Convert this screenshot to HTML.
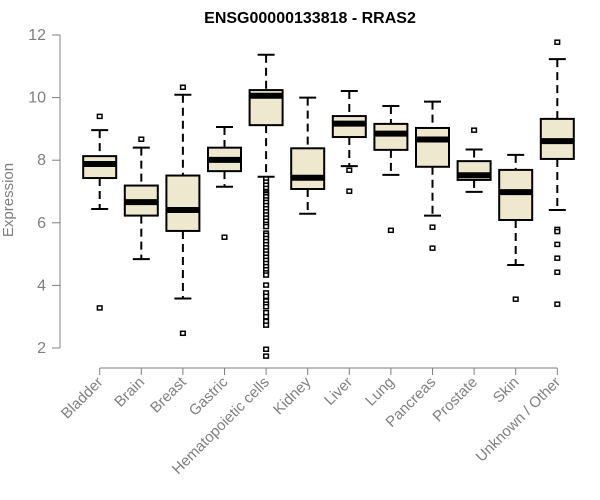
<!DOCTYPE html>
<html><head><meta charset="utf-8"><style>
body{margin:0;background:#fff}
svg{display:block;font-family:"Liberation Sans",sans-serif}
</style></head><body>
<svg id="chart" width="600" height="500">
<text x="310" y="23" text-anchor="middle" font-weight="bold" font-size="16">ENSG00000133818 - RRAS2</text>
<text transform="translate(13,200) rotate(-90)" text-anchor="middle" font-size="15" fill="#808080">Expression</text>
<g id="g"></g>
</svg>
<script>
const categories=["Bladder","Brain","Breast","Gastric","Hematopoietic cells","Kidney","Liver","Lung","Pancreas","Prostate","Skin","Unknown / Other"];
const whiskerLow=[6.44,4.84,3.58,7.15,7.47,6.29,7.81,7.53,6.23,6.99,4.65,6.41];
const q1=[7.43,6.23,5.74,7.65,9.12,7.08,8.74,8.33,7.79,7.37,6.09,8.04];
const median=[7.88,6.66,6.41,8.01,10.06,7.44,9.17,8.85,8.66,7.52,6.98,8.61];
const q3=[8.13,7.19,7.51,8.40,10.24,8.38,9.41,9.16,9.03,7.97,7.69,9.32];
const whiskerHigh=[8.96,8.40,10.09,9.06,11.37,10.0,10.21,9.73,9.87,8.34,8.17,11.23];
const outliers=[[9.40,3.28],[8.67],[10.33,2.47],[5.54],
[7.4,7.3,7.2,7.1,7.0,6.95,6.9,6.83,6.73,6.65,6.55,6.45,6.35,6.25,6.15,6.05,5.95,5.88,5.67,5.6,5.5,5.4,5.3,5.2,5.1,5.0,4.9,4.8,4.7,4.6,4.5,4.4,4.33,4.01,3.76,3.65,3.5,3.4,3.32,3.13,3.0,2.85,2.73,1.96,1.74],
[],[7.68,7.01],[5.76],[5.86,5.19],[8.96],[3.56],[11.77,5.79,5.72,5.31,4.87,4.42,3.40]];
const yTicks=[2,4,6,8,10,12];
const NS="http://www.w3.org/2000/svg";
const g=document.getElementById('g');
function y(v){return 348-(v-2)*31.3;}
function x(i){return 99.7+i*41.6;}
function mk(t,a){const e=document.createElementNS(NS,t);for(const k in a)e.setAttribute(k,a[k]);g.appendChild(e);return e;}
let e=mk('line',{x1:60,y1:y(2),x2:60,y2:y(12),stroke:'#808080','stroke-width':1});


yTicks.forEach(t=>{
 let l=mk('line',{x1:52,x2:60,y1:y(t),y2:y(t),stroke:'#808080'});
 
 
 let tx=mk('text',{x:46,y:y(t)+5,'text-anchor':'end','font-size':16,fill:'#808080'});tx.textContent=t;
 
 
});
e=mk('line',{x1:x(0),x2:x(categories.length-1),y1:368,y2:368,stroke:'#808080'});


categories.forEach((c,i)=>{
 const cx=x(i),hw=16.5;
 let l=mk('line',{x1:cx,x2:cx,y1:368,y2:375,stroke:'#808080'});
 
 
 let tx=mk('text',{transform:`translate(${cx+4},${383}) rotate(-45)`,'text-anchor':'end','font-size':15,fill:'#808080'});tx.textContent=c;
 
 
 [[whiskerHigh[i],q3[i]],[q1[i],whiskerLow[i]]].forEach(p=>{
  let w=mk('line',{x1:cx,x2:cx,y1:y(p[0]),y2:y(p[1]),stroke:'#000','stroke-width':2,'stroke-dasharray':'8,5'});
  
  
 });
 [whiskerHigh[i],whiskerLow[i]].forEach(v=>{
  let cp=mk('line',{x1:cx-8.5,x2:cx+8.5,y1:y(v),y2:y(v),stroke:'#000','stroke-width':2});
  
  
 });
 let r=mk('rect',{x:cx-hw,y:y(q3[i]),width:hw*2,height:y(q1[i])-y(q3[i]),fill:'#EEE8CF',stroke:'#000','stroke-width':2});
 
 
 let m=mk('line',{x1:cx-hw,x2:cx+hw,y1:y(median[i]),y2:y(median[i]),stroke:'#000','stroke-width':6});
 
 
 outliers[i].forEach(v=>{
  let o=mk('rect',{x:cx-2.3,y:y(v)-2,width:4.6,height:4,fill:'#fff',stroke:'#000','stroke-width':1.5});
  
  
 });
});
</script>
</body></html>
